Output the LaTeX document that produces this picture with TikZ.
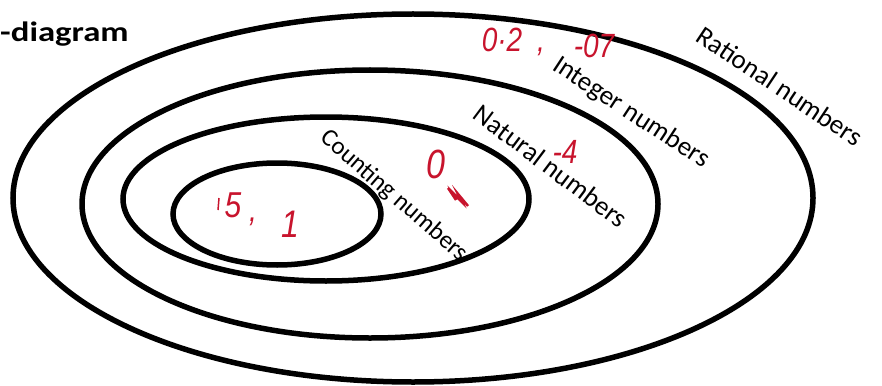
\documentclass[tikz,border=0pt]{standalone}
\usepackage{fontspec}
\setmainfont{Carlito}
\newfontfamily\handfont{Liberation Sans}
\definecolor{hand}{RGB}{200,20,45}
\begin{document}
\begin{tikzpicture}[x=1pt,y=-1pt,
  setline/.style={line width=5.5pt,black},
  setlabel/.style={font=\fontsize{27}{27}\selectfont,inner sep=0pt},
  handtxt/.style={text=hand,font=\handfont\itshape\fontsize{28}{28}\selectfont,inner sep=0pt,yscale=1.2}]
\useasboundingbox (0,0) rectangle (882,385);
\draw[setline] (413,198) ellipse [x radius=400,y radius=184];
\draw[setline] (370,204) ellipse [x radius=288,y radius=134];
\draw[setline] (326,199) ellipse [x radius=203,y radius=82];
\draw[setline] (277,214) ellipse [x radius=104,y radius=51];
\node[font=\bfseries\fontsize{28}{28}\selectfont,inner sep=0pt,anchor=west,xscale=1.24] (title) at (0,34) {-diagram};
\node[setlabel,rotate=-33.7] (rat) at (780,86) {Rational numbers};
\node[setlabel,rotate=-33.3] (int) at (631,113) {Integer numbers};
\node[setlabel,rotate=-37] (nat) at (551,166) {Natural numbers};
\node[setlabel,rotate=-41,font=\fontsize{25}{25}\selectfont] (cnt) at (394,196) {Counting numbers};
\node[handtxt] (rqa) at (502,40) {0·2};
\node[handtxt] (rqb) at (541,52) {,};
\node[handtxt] (rqc) at (594,46) {-07};
\node[handtxt] (mf) at (565,152) {-4};
\node[handtxt,font=\handfont\itshape\fontsize{34}{34}\selectfont] (zero) at (436,164) {0};
\draw[hand,line width=2.5pt] (448,188) -- (456,200) -- (452,192) -- (462,202) -- (458,194) -- (468,206);
\node[handtxt,font=\handfont\itshape\fontsize{30}{30}\selectfont] (five) at (233,205) {5};
\node[handtxt] (comma) at (253,222) {,};
\node[handtxt,font=\handfont\itshape\fontsize{32}{32}\selectfont] (one) at (290,224) {1};
\draw[hand,line width=1.5pt] (219,198) -- (218,210);
\end{tikzpicture}
\end{document}
